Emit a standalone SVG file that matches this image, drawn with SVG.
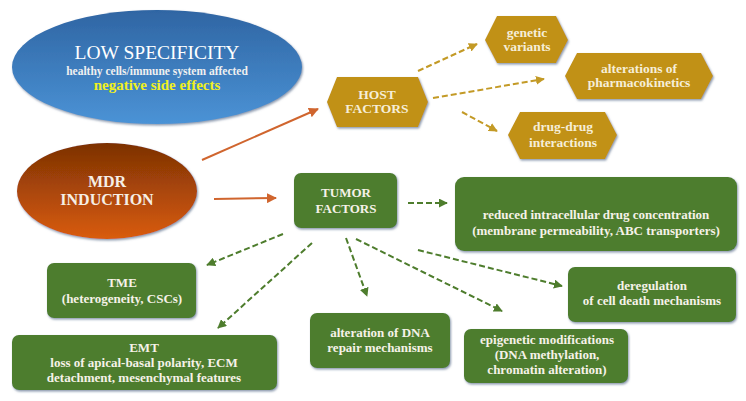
<svg xmlns="http://www.w3.org/2000/svg" width="746" height="401" viewBox="0 0 746 401" font-family="'Liberation Serif', 'DejaVu Serif', 'Times New Roman', Times, serif">
<defs>
<linearGradient id="gBlue" x1="0" y1="0" x2="0" y2="1"><stop offset="0" stop-color="#2f65a3"/><stop offset="1" stop-color="#4b93d6"/></linearGradient>
<linearGradient id="gBrown" x1="0" y1="0" x2="0" y2="1"><stop offset="0" stop-color="#7c3104"/><stop offset="1" stop-color="#d95c0c"/></linearGradient>
<filter id="sh" x="-10%" y="-10%" width="130%" height="140%"><feDropShadow dx="1" dy="1.5" stdDeviation="1.2" flood-color="#6d7f99" flood-opacity="0.8"/></filter>
<marker id="mO" viewBox="0 0 10 10" refX="9" refY="5" markerWidth="5" markerHeight="5" orient="auto"><path d="M0,0 L10,5 L0,10 z" fill="#d0652e"/></marker>
<marker id="mY" viewBox="0 0 10 10" refX="9" refY="5" markerWidth="4.5" markerHeight="4.5" orient="auto"><path d="M0,0 L10,5 L0,10 z" fill="#c39a26"/></marker>
<marker id="mG" viewBox="0 0 10 10" refX="9" refY="5" markerWidth="4.5" markerHeight="4.5" orient="auto"><path d="M0,0 L10,5 L0,10 z" fill="#4e7d2d"/></marker>
</defs>
<style>
text{font-family:'Liberation Serif','DejaVu Serif','Times New Roman',Times,serif;text-anchor:middle;}
.w{fill:#f6f2e8;font-weight:bold;font-size:13px;}
.h{fill:#f6eed8;font-weight:bold;font-size:13.5px;}
.box{fill:#4e7d2d;filter:url(#sh);}
.hex{fill:#c19112;filter:url(#sh);}
.o{stroke:#d0652e;stroke-width:2;fill:none;marker-end:url(#mO);}
.y{stroke:#c39a26;stroke-width:2;fill:none;stroke-dasharray:6 3;marker-end:url(#mY);}
.g{stroke:#4e7d2d;stroke-width:2;fill:none;stroke-dasharray:6 3;marker-end:url(#mG);}
</style>
<rect width="746" height="401" fill="#ffffff"/>
<g id="connectors">
<line class="o" x1="202" y1="160" x2="318" y2="109"/>
<line class="o" x1="214" y1="199" x2="276" y2="198"/>
<line class="y" x1="418" y1="71" x2="477" y2="44"/>
<line class="y" x1="433" y1="98" x2="544" y2="79"/>
<line class="y" x1="462" y1="112" x2="497" y2="131"/>
<line class="g" x1="408" y1="203" x2="447" y2="203"/>
<line class="g" x1="283" y1="234" x2="207" y2="265"/>
<line class="g" x1="312" y1="243" x2="218" y2="328"/>
<line class="g" x1="346" y1="238" x2="367" y2="296"/>
<line class="g" x1="356" y1="239" x2="502" y2="311"/>
<line class="g" x1="418" y1="250" x2="562" y2="286"/>
</g>
<g id="low-specificity">
<ellipse cx="157" cy="67" rx="145" ry="57" fill="url(#gBlue)" filter="url(#sh)"/>
<text x="157" y="59" font-size="19.5" fill="#ffffff">LOW SPECIFICITY</text>
<text x="157" y="75" font-size="11.5" font-weight="bold" fill="#f0f0f0">healthy cells/immune system affected</text>
<text x="157" y="90" font-size="15" font-weight="bold" fill="#f0f020">negative side effects</text>
</g>
<g id="mdr-induction">
<ellipse cx="107" cy="191" rx="90" ry="48" fill="url(#gBrown)" filter="url(#sh)"/>
<text x="107" y="187" font-size="16" font-weight="bold" fill="#f6efe6">MDR</text>
<text x="107" y="205" font-size="16" font-weight="bold" fill="#f6efe6">INDUCTION</text>
</g>
<g id="host-factors">
<polygon class="hex" points="327,102 337,77 418,77 428,102 418,127 337,127"/>
<text class="h" x="377" y="99">HOST</text>
<text class="h" x="377" y="113">FACTORS</text>
</g>
<g id="genetic-variants">
<polygon class="hex" points="485,40 497,16 556,16 568,40 556,63 497,63"/>
<text class="h" x="527" y="37">genetic</text>
<text class="h" x="527" y="51">variants</text>
</g>
<g id="pharmacokinetics">
<polygon class="hex" points="565,76 577,53 701,53 713,76 701,99 577,99"/>
<text class="h" x="639" y="73">alterations of</text>
<text class="h" x="639" y="87">pharmacokinetics</text>
</g>
<g id="drug-drug">
<polygon class="hex" points="508,135 520,112 605,112 617,135 605,159 520,159"/>
<text class="h" x="563" y="131">drug-drug</text>
<text class="h" x="563" y="147">interactions</text>
</g>
<g id="tumor-factors">
<rect class="box" x="294" y="173" width="103" height="55" rx="7"/>
<text class="w" x="346" y="197">TUMOR</text>
<text class="w" x="346" y="213">FACTORS</text>
</g>
<g id="reduced-concentration">
<rect class="box" x="455" y="177" width="282" height="74" rx="9"/>
<text class="w" x="596" y="219">reduced intracellular drug concentration</text>
<text class="w" x="596" y="235">(membrane permeability, ABC transporters)</text>
</g>
<g id="tme">
<rect class="box" x="47" y="263" width="149" height="55" rx="7"/>
<text class="w" x="122" y="287">TME</text>
<text class="w" x="122" y="303">(heterogeneity, CSCs)</text>
</g>
<g id="emt">
<rect class="box" x="12" y="335" width="265" height="55" rx="7"/>
<text class="w" x="144" y="352">EMT</text>
<text class="w" x="144" y="367">loss of apical-basal polarity, ECM</text>
<text class="w" x="144" y="382">detachment, mesenchymal features</text>
</g>
<g id="dna-repair">
<rect class="box" x="310" y="313" width="140" height="55" rx="7"/>
<text class="w" x="380" y="337">alteration of DNA</text>
<text class="w" x="380" y="352">repair mechanisms</text>
</g>
<g id="epigenetic">
<rect class="box" x="464" y="329" width="164" height="54" rx="7"/>
<text class="w" x="547" y="344">epigenetic modifications</text>
<text class="w" x="547" y="359">(DNA methylation,</text>
<text class="w" x="547" y="374">chromatin alteration)</text>
</g>
<g id="deregulation">
<rect class="box" x="568" y="267" width="168" height="55" rx="7"/>
<text class="w" x="652" y="290">deregulation</text>
<text class="w" x="652" y="305">of cell death mechanisms</text>
</g>
</svg>
